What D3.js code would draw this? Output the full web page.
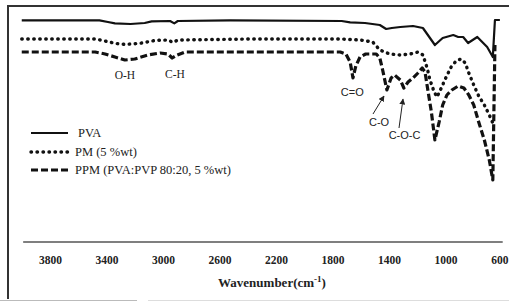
<!DOCTYPE html>
<html><head><meta charset="utf-8">
<script src="https://cdn.jsdelivr.net/npm/d3@7"></script>
<style>body{margin:0;background:#fff}svg{display:block}</style>
</head><body><svg id="c" width="509" height="302"></svg>
<script>
const tickLabels = [3800,3400,3000,2600,2200,1800,1400,1000,600];
const pvaWn = [4000,3450,3390,3340,3230,3130,3080,2950,2920,2895,2525,1735,1675,1570,1465,1420,1380,1320,1230,1160,1110,1075,1020,945,910,875,840,775,705,665,650,615];
const pvaT  = [99.8,99.8,99,98.3,98,98.5,99.3,99.5,98.3,99.5,99.8,99.5,98.8,98.5,97.5,95.5,96,96.5,97,96,91,87.5,91,92.5,91.5,91.5,88.5,91.5,86.5,81.5,100,100];
const pmWn = [4000,3480,3410,3340,3270,3165,3055,2965,2930,2895,2385,1745,1605,1515,1465,1395,1320,1250,1195,1160,1130,1110,1080,1060,1030,995,960,925,890,860,835,800,765,725,690,665];
const pmT  = [90.5,90.5,89.5,88.3,87.8,88.3,89.8,90,88.8,90,90.5,90.5,90,89,85,83,82.5,83,84,82.5,76,70,64,61.5,66,71.5,76.5,79.5,80.5,78.5,73.5,67.5,62,57.5,52.5,48.5];
const ppmWn = [4000,3480,3410,3340,3270,3200,3105,3020,2965,2935,2900,2845,1745,1705,1675,1655,1635,1605,1565,1490,1465,1445,1415,1385,1360,1320,1295,1265,1230,1195,1165,1145,1125,1100,1075,1045,1020,990,955,910,870,835,800,765,725,690,665,650];
const ppmT  = [84,84,83,81.5,80,80.5,82.5,83.5,83,81,82.5,84,84,83,79,71,77,81.5,83,83,81,75,65,71,72.5,70,66,69,71,73.5,76,74,65,54,40,49,57.5,62.5,65,67,66,62.5,57.5,49,40,30,20,87.5];
const seriesNames = ["PVA","PM (5 %wt)","PPM (PVA:PVP 80:20, 5 %wt)"];
const peakLabels = [
  {t:"O-H", wn:3270, v:70.5, font:"serif"},
  {t:"C-H", wn:2915, v:71, font:"serif"},
  {t:"C=O", wn:1660, v:62, font:"sans"},
  {t:"C-O", wn:1470, v:47, font:"sans"},
  {t:"C-O-C", wn:1290, v:40.5, font:"sans"}
];

const svg = d3.select("#c");
const x = d3.scaleLinear().domain([3800,600]).range([50,502]);
const y = d3.scaleLinear().domain([0,100]).range([220,20]);

// frame
svg.append("line").attr("x1",8).attr("x2",8).attr("y1",6).attr("y2",299).attr("stroke","#333").attr("stroke-width",2);
svg.append("line").attr("x1",7).attr("x2",509).attr("y1",6).attr("y2",6).attr("stroke","#333").attr("stroke-width",2);
svg.append("line").attr("x1",0).attr("x2",137).attr("y1",300.5).attr("y2",300.5).attr("stroke","#bbb").attr("stroke-width",1);
svg.append("line").attr("x1",148).attr("x2",509).attr("y1",300.5).attr("y2",300.5).attr("stroke","#ddd").attr("stroke-width",1);

// axis
const ax = svg.append("g").attr("transform","translate(0,242)")
  .call(d3.axisBottom(x).tickValues(tickLabels).tickSize(0).tickFormat(d3.format("d")));
ax.select(".domain").remove();
ax.selectAll("text").attr("y",14).attr("dy","0.71em")
  .attr("font-family","'Liberation Serif', serif").attr("font-weight","bold").attr("font-size",11.5).attr("fill","#222");
ax.selectAll(".tick").filter(d=>d===600).select("text").attr("text-anchor","end").attr("x",6);
svg.append("line").attr("x1",x(3990)).attr("x2",x(595)).attr("y1",242).attr("y2",242).attr("stroke","#555").attr("stroke-width",1.3);

const title = svg.append("text").attr("x",272).attr("y",287).attr("text-anchor","middle")
  .attr("font-family","'Liberation Serif', serif").attr("font-weight","bold").attr("font-size",13).attr("fill","#222");
title.append("tspan").text("Wavenumber(cm");
title.append("tspan").attr("dy",-5).attr("font-size",9).text("-1");
title.append("tspan").attr("dy",5).text(")");

// series
const line = d3.line().x(d=>x(d[0])).y(d=>y(d[1]));
const styles = [
  {w:2.2, dash:null, cap:"butt"},
  {w:3.4, dash:"0.5 5.5", cap:"round"},
  {w:3.2, dash:"7 3", cap:"butt"}
];
const data = [d3.zip(pvaWn,pvaT), d3.zip(pmWn,pmT), d3.zip(ppmWn,ppmT)];
data.forEach((d,i)=>{
  svg.append("path").datum(d).attr("d",line).attr("fill","none").attr("stroke","#111")
    .attr("stroke-width",styles[i].w).attr("stroke-dasharray",styles[i].dash)
    .attr("stroke-linecap",styles[i].cap).attr("stroke-linejoin","round");
});

// peak labels
peakLabels.forEach(p=>{
  svg.append("text").attr("x",x(p.wn)).attr("y",y(p.v)).attr("text-anchor","middle")
    .attr("font-family", p.font==="serif" ? "'Liberation Serif', serif" : "'Liberation Sans', Arial, sans-serif")
    .attr("font-size", p.font==="serif"?11.5:11).attr("fill","#222").text(p.t);
});
// arrows
svg.append("defs").append("marker").attr("id","ah").attr("viewBox","0 0 10 10").attr("refX",9).attr("refY",5)
  .attr("markerWidth",6).attr("markerHeight",6).attr("orient","auto")
  .append("path").attr("d","M0,0L10,5L0,10z").attr("fill","#222");
const arrows = [[373,114,384,96],[399,128,403,99]];
arrows.forEach(a=>{
  svg.append("line").attr("x1",a[0]).attr("y1",a[1]).attr("x2",a[2]).attr("y2",a[3])
    .attr("stroke","#222").attr("stroke-width",1).attr("marker-end","url(#ah)");
});

// legend
const legY = [133,152,170];
legY.forEach((ly,i)=>{
  svg.append("line").attr("x1",31).attr("x2",68).attr("y1",ly).attr("y2",ly).attr("stroke","#111")
    .attr("stroke-width",styles[i].w).attr("stroke-dasharray",styles[i].dash).attr("stroke-linecap",styles[i].cap);
  svg.append("text").attr("x", i===0?78:75).attr("y",ly+4).attr("font-family","'Liberation Serif', serif")
    .attr("font-size",12.5).attr("fill","#222").text(seriesNames[i]);
});
</script></body></html>
